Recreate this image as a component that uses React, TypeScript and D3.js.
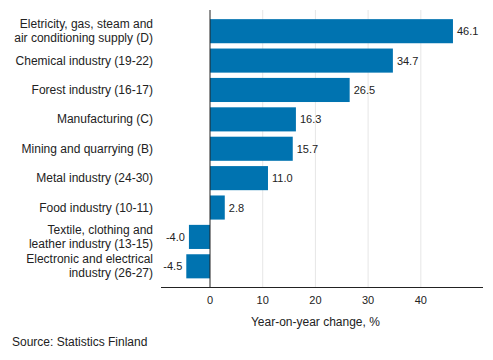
import React from 'react';
import * as d3 from 'd3';

const categories: string[][] = [
  ['Eletricity, gas, steam and', 'air conditioning supply (D)'],
  ['Chemical industry (19-22)'],
  ['Forest industry (16-17)'],
  ['Manufacturing (C)'],
  ['Mining and quarrying (B)'],
  ['Metal industry (24-30)'],
  ['Food industry (10-11)'],
  ['Textile, clothing and', 'leather industry (13-15)'],
  ['Electronic and electrical', 'industry (26-27)'],
];
const values = [46.1, 34.7, 26.5, 16.3, 15.7, 11.0, 2.8, -4.0, -4.5];
const ticks = [0, 10, 20, 30, 40];
const axisTitle = 'Year-on-year change, %';
const source = 'Source: Statistics Finland';

const W = 493;
const H = 360;
const font = '"Liberation Sans", Arial, sans-serif';

export default function App() {
  const x = d3.scaleLinear().domain([-9.3, 51.8]).range([161, 483]);
  const y = d3
    .scaleBand<number>()
    .domain(d3.range(values.length))
    .range([16.5, 281])
    .paddingInner(0.18)
    .paddingOuter(0.09);
  const top = 10;
  const axisY = 287;

  return (
    <svg width={W} height={H} style={{ position: 'absolute', left: 0, top: 0, background: '#fff' }}>
      {/* grid */}
      {ticks.filter((t) => t !== 0).map((t) => (
        <line key={t} x1={x(t)} x2={x(t)} y1={top} y2={axisY} stroke="#e6e6e6" strokeWidth={1} />
      ))}
      {/* bars */}
      {values.map((v, i) => (
        <rect
          key={i}
          x={Math.min(x(0), x(v))}
          y={y(i)!}
          width={Math.abs(x(v) - x(0))}
          height={y.bandwidth()}
          fill="#0073b0"
        />
      ))}
      {/* zero line */}
      <line x1={x(0)} x2={x(0)} y1={top} y2={axisY} stroke="#222" strokeWidth={1} />
      {/* x axis line */}
      <line x1={161} x2={483} y1={axisY + 0.5} y2={axisY + 0.5} stroke="#222" strokeWidth={1} />
      {/* value labels */}
      {values.map((v, i) => (
        <text
          key={i}
          x={v >= 0 ? x(v) + 4 : x(v) - 4}
          y={y(i)! + y.bandwidth() / 2 + 4}
          textAnchor={v >= 0 ? 'start' : 'end'}
          fontFamily={font}
          fontSize={11}
          fill="#222"
        >
          {v.toFixed(1)}
        </text>
      ))}
      {/* category labels */}
      {categories.map((lines, i) => {
        const cy = y(i)! + y.bandwidth() / 2;
        const lh = 14;
        const start = cy - ((lines.length - 1) * lh) / 2 + 4;
        return (
          <text key={i} textAnchor="end" fontFamily={font} fontSize={12} fill="#222">
            {lines.map((l, j) => (
              <tspan key={j} x={153} y={start + j * lh}>
                {l}
              </tspan>
            ))}
          </text>
        );
      })}
      {/* tick labels */}
      {ticks.map((t) => (
        <text key={t} x={x(t)} y={304} textAnchor="middle" fontFamily={font} fontSize={11} fill="#222">
          {t}
        </text>
      ))}
      <text x={x(20)} y={326} textAnchor="middle" fontFamily={font} fontSize={12} fill="#222">
        {axisTitle}
      </text>
      <text x={12} y={346} fontFamily={font} fontSize={12} fill="#222">
        {source}
      </text>
    </svg>
  );
}
